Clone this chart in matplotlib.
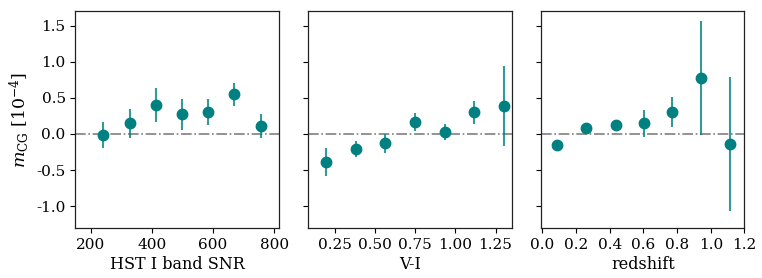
import matplotlib
matplotlib.use("Agg")
import matplotlib.pyplot as plt

plt.rcParams['font.family'] = ['DejaVu Serif']
plt.rcParams['mathtext.fontset'] = 'dejavuserif'
plt.rcParams['axes.unicode_minus'] = False

snr_x = [240, 330, 413, 497, 585, 670, 757]
snr_y = [-0.01, 0.15, 0.40, 0.27, 0.30, 0.55, 0.11]
snr_err = [0.18, 0.20, 0.23, 0.21, 0.18, 0.16, 0.16]

vi_x = [0.198, 0.383, 0.564, 0.751, 0.935, 1.117, 1.30]
vi_y = [-0.39, -0.21, -0.13, 0.165, 0.025, 0.30, 0.385]
vi_err = [0.19, 0.11, 0.13, 0.13, 0.11, 0.16, 0.555]

z_x = [0.088, 0.261, 0.434, 0.605, 0.772, 0.943, 1.116]
z_y = [-0.157, 0.078, 0.12, 0.147, 0.30, 0.77, -0.138]
z_err = [0.04, 0.04, 0.04, 0.185, 0.205, 0.79, 0.925]

panels = [
    (snr_x, snr_y, snr_err, "HST I band SNR", (150, 815), [200, 400, 600, 800], None),
    (vi_x, vi_y, vi_err, "V-I", (0.085, 1.35), [0.25, 0.5, 0.75, 1.0, 1.25], "%.2f"),
    (z_x, z_y, z_err, "redshift", (-0.008, 1.2), [0.0, 0.2, 0.4, 0.6, 0.8, 1.0, 1.2], "%.1f"),
]

fig, axes = plt.subplots(1, 3, figsize=(7.62, 2.78), dpi=100, sharey=True)
fig.subplots_adjust(left=0.099, right=0.977, top=0.96, bottom=0.18, wspace=0.145)

for ax, (x, y, e, lab, xl, xt, fmt) in zip(axes, panels):
    ax.axhline(0, color='gray', ls='-.', lw=1.2, zorder=1)
    ax.errorbar(x, y, yerr=e, fmt='none', ecolor='teal', elinewidth=1.5, alpha=0.8, zorder=2)
    ax.plot(x, y, 'o', color='teal', ms=7.5, zorder=3)
    ax.set_xlim(*xl)
    ax.set_xticks(xt)
    if fmt:
        ax.set_xticklabels([fmt % v for v in xt])
    ax.set_xlabel(lab, fontsize=11.5, labelpad=3)
    ax.tick_params(labelsize=11, direction='out', length=3.5)
    for s in ax.spines.values():
        s.set_color('#222222')
        s.set_linewidth(0.9)

axes[0].set_ylim(-1.3, 1.7)
axes[0].set_yticks([-1.0, -0.5, 0.0, 0.5, 1.0, 1.5])
axes[0].set_yticklabels(["-1.0", "-0.5", "0.0", "0.5", "1.0", "1.5"])
axes[0].set_ylabel(r"$m_{\rm CG}\ [10^{-4}]$", fontsize=12.5)

fig.savefig("out.png", dpi=100)
